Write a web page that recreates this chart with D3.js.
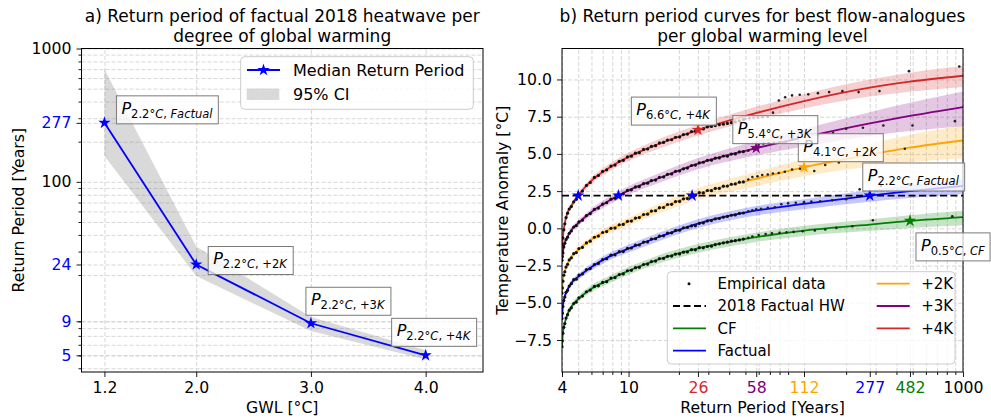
<!DOCTYPE html>
<html>
<head>
<meta charset="utf-8">
<script src="https://cdn.jsdelivr.net/npm/d3@7"></script>
<style>
  body { margin: 0; background: #fff; }
  svg { display: block; }
  text { font-family: "DejaVu Sans", sans-serif; }
</style>
</head>
<body>
<svg id="chart" width="991" height="420"></svg>
<script>
// ---- panel a data ----
const gwl = [1.2, 2.0, 3.0, 4.0];
const gwlNames = ["Factual", "+2K", "+3K", "+4K"];
const medianRP = [277, 24, 8.7, 5];
const ciLow = [156, 19.7, 7.6, 4.65];
const ciHigh = [700, 32.7, 9.7, 5.45];
const rpTicksA = [5, 9, 24, 100, 277, 1000];
const rpTickLabelsA = ["5", "9", "24", "100", "277", "1000"];
const gwlTicks = [1.2, 2.0, 3.0, 4.0];
const hwTemp = 2.2;

// ---- panel b data ----
const series = ["CF", "Factual", "+2K", "+3K", "+4K"];
const starRP = [482, 277, 112, 58, 26];
const starT = [0.5, 2.2, 4.1, 5.4, 6.6];
const yTicksB = [-7.5, -5, -2.5, 0, 2.5, 5, 7.5, 10];

const fitRP = [4.0, 4.05, 4.15, 4.3, 4.6, 5, 6, 7.5, 10, 15, 26, 52, 112, 277, 480, 1000];
const fitCF = [-8.0, -7.0, -6.4, -5.8, -5.2, -4.75, -4.05, -3.5, -2.85, -2.1, -1.35, -0.68, -0.15, 0.25, 0.5, 0.76];
const loCF = [-8.3, -7.25, -6.62, -6.0, -5.4, -4.95, -4.27, -3.74, -3.11, -2.38, -1.65, -1.0, -0.51, -0.17, 0.03, 0.21];
const hiCF = [-7.7, -6.75, -6.18, -5.6, -5.0, -4.55, -3.83, -3.26, -2.59, -1.82, -1.06, -0.38, 0.17, 0.6, 0.88, 1.18];
const fitFactual = [-6.1, -5.2, -4.6, -4.15, -3.6, -3.26, -2.6, -1.95, -1.36, -0.6, 0.32, 1.1, 1.64, 2.2, 2.5, 2.85];
const loFactual = [-6.4, -5.45, -4.82, -4.35, -3.8, -3.46, -2.82, -2.19, -1.62, -0.88, 0.02, 0.78, 1.28, 1.78, 2.03, 2.3];
const hiFactual = [-5.8, -4.95, -4.38, -3.95, -3.4, -3.06, -2.38, -1.71, -1.1, -0.32, 0.61, 1.4, 1.96, 2.56, 2.9, 3.3];
const fit2K = [-4.4, -3.5, -2.9, -2.4, -1.85, -1.45, -0.75, -0.13, 0.45, 1.3, 2.32, 3.2, 4.1, 4.95, 5.42, 5.9];
const lo2K = [-4.7, -3.75, -3.12, -2.6, -2.05, -1.65, -0.97, -0.38, 0.17, 0.98, 1.94, 2.73, 3.5, 4.13, 4.44, 4.7];
const hi2K = [-4.1, -3.25, -2.68, -2.2, -1.65, -1.25, -0.53, 0.12, 0.73, 1.62, 2.69, 3.65, 4.65, 5.67, 6.27, 6.9];
const fit3K = [-2.2, -1.6, -1.0, -0.6, -0.05, 0.35, 1.1, 1.8, 2.55, 3.35, 4.35, 5.26, 6.12, 7.05, 7.55, 8.15];
const lo3K = [-2.5, -1.85, -1.22, -0.8, -0.25, 0.15, 0.88, 1.55, 2.27, 3.03, 3.97, 4.79, 5.5, 6.2, 6.53, 6.85];
const hi3K = [-1.9, -1.35, -0.78, -0.4, 0.15, 0.55, 1.32, 2.05, 2.83, 3.67, 4.72, 5.71, 6.69, 7.8, 8.43, 9.2];
const fit4K = [-1.6, -0.6, 0.3, 1.0, 1.6, 2.2, 3.2, 4.0, 4.8, 5.65, 6.6, 7.6, 8.55, 9.45, 9.85, 10.25];
const lo4K = [-1.9, -0.85, 0.08, 0.8, 1.4, 2.0, 2.98, 3.75, 4.52, 5.33, 6.24, 7.18, 8.05, 8.85, 9.18, 9.5];
const hi4K = [-1.3, -0.35, 0.52, 1.2, 1.8, 2.4, 3.42, 4.25, 5.08, 5.97, 6.96, 8.01, 9.02, 10.0, 10.45, 10.9];

// empirical data: dense part on a shared return-period list, sparse tail per series
const empRP = [4.0, 4.02, 4.05, 4.1, 4.16, 4.23, 4.32, 4.42, 4.55, 4.7, 4.87, 5.05, 5.3, 5.6, 5.9, 6.25, 6.6, 7.0, 7.4, 7.85,
  8.3, 8.8, 9.3, 9.85, 10.4, 11.0, 11.6, 12.3, 13.0, 13.7, 14.5, 15.3, 16.2, 17.1, 18.1, 19.1, 20.2, 21.3, 22.5, 23.8,
  25.1, 26.5, 28.0, 29.6, 31.3, 33.0, 34.9, 36.9, 39.0, 41.2, 43.5, 46.0, 48.6];
const empCF = [-7.95, -7.55, -7.05, -6.65, -6.4, -6.03, -5.8, -5.5, -5.34, -5.05, -4.95, -4.67, -4.55, -4.26, -4.15, -3.9, -3.86, -3.63, -3.58, -3.34,
  -3.31, -3.1, -3.06, -2.85, -2.82, -2.64, -2.62, -2.43, -2.4, -2.23, -2.2, -2.03, -2.02, -1.88, -1.86, -1.73, -1.72, -1.6, -1.59, -1.43,
  -1.44, -1.3, -1.31, -1.22, -1.2, -1.1, -1.04, -0.98, -0.93, -0.86, -0.83, -0.78, -0.72];
const empFactual = [-6.05, -5.7, -5.25, -4.85, -4.62, -4.3, -4.17, -3.88, -3.72, -3.45, -3.42, -3.14, -3.06, -2.77, -2.7, -2.43, -2.36, -2.1, -2.04, -1.8,
  -1.78, -1.57, -1.56, -1.34, -1.32, -1.13, -1.12, -0.92, -0.91, -0.72, -0.7, -0.52, -0.5, -0.32, -0.3, -0.14, -0.13, 0.04, 0.06, 0.16,
  0.18, 0.34, 0.36, 0.5, 0.52, 0.63, 0.66, 0.75, 0.8, 0.88, 0.9, 1.0, 1.03];
const emp2K = [-4.35, -4.0, -3.55, -3.15, -2.92, -2.6, -2.42, -2.12, -1.98, -1.7, -1.63, -1.36, -1.28, -0.98, -0.86, -0.6, -0.52, -0.28, -0.22, 0.0,
  0.02, 0.24, 0.26, 0.47, 0.49, 0.69, 0.72, 0.93, 0.95, 1.16, 1.18, 1.39, 1.4, 1.6, 1.61, 1.8, 1.81, 1.98, 2.0, 2.2,
  2.22, 2.4, 2.38, 2.54, 2.53, 2.68, 2.68, 2.83, 2.84, 2.96, 2.98, 3.1, 3.12];
const emp3K = [-2.15, -1.9, -1.65, -1.25, -1.0, -0.75, -0.6, -0.33, -0.18, 0.09, 0.18, 0.43, 0.55, 0.86, 0.99, 1.27, 1.36, 1.62, 1.72, 1.96,
  2.02, 2.25, 2.32, 2.55, 2.59, 2.78, 2.8, 3.0, 3.03, 3.21, 3.24, 3.43, 3.45, 3.63, 3.65, 3.83, 3.85, 4.0, 4.05, 4.22,
  4.25, 4.4, 4.44, 4.57, 4.58, 4.71, 4.73, 4.86, 4.85, 4.99, 5.0, 5.13, 5.15];
const emp4K = [-1.55, -1.1, -0.65, -0.1, 0.3, 0.72, 1.02, 1.3, 1.46, 1.78, 1.95, 2.3, 2.5, 2.88, 3.08, 3.42, 3.55, 3.83, 3.93, 4.18,
  4.25, 4.5, 4.57, 4.8, 4.85, 5.05, 5.08, 5.3, 5.33, 5.5, 5.55, 5.74, 5.77, 5.93, 5.95, 6.12, 6.13, 6.3, 6.33, 6.5,
  6.52, 6.66, 6.68, 6.82, 6.84, 6.9, 6.96, 7.0, 7.05, 7.1, 7.15, 7.22, 7.3];
const tailCF = [[52, -0.64], [55, -0.55], [60, -0.45], [66, -0.38], [72, -0.34], [80, -0.3], [88, -0.27], [97, -0.24],
  [110, -0.2], [130, -0.15], [150, -0.08], [175, 0.03], [218, 0.14], [289, 0.54], [863, 0.81]];
const tailFactual = [[52, 1.15], [55, 1.22], [58, 1.28], [62, 1.32], [68, 1.38], [75, 1.42], [82, 1.62], [90, 1.68], [100, 1.72],
  [112, 1.76], [124, 1.8], [140, 1.82], [165, 1.88], [200, 1.95], [241, 2.62], [323, 2.84], [481, 2.95]];
const tail2K = [[52, 3.28], [55, 3.45], [59, 3.5], [63, 3.58], [68, 3.62], [73, 3.68], [79, 3.72], [86, 3.8], [95, 3.95],
  [106, 4.0], [129, 3.85], [150, 4.25], [181, 4.43], [449, 5.35]];
const tail3K = [[52, 5.22], [56, 5.38], [60, 5.62], [64, 5.7], [69, 5.73], [74, 5.75], [80, 5.78], [87, 5.8], [95, 6.0],
  [105, 6.1], [118, 6.2], [135, 6.25], [167, 6.4], [200, 6.69], [252, 6.76], [334, 6.91], [499, 6.91], [895, 7.2]];
const tail4K = [[50, 7.36], [52.8, 7.4], [55.9, 7.43], [59.4, 7.45], [63.3, 7.46], [67.9, 7.48], [73.1, 7.77], [79.2, 8.59],
  [86.4, 8.81], [95, 8.93], [105.6, 8.97], [118.8, 9.0], [135.7, 9.08], [158.3, 9.15], [190, 9.22], [237.5, 9.15],
  [316.7, 9.22], [475, 10.56], [950, 10.87]];

// ---- layout / style ----
const colors = {"CF": "green", "Factual": "blue", "+2K": "orange", "+3K": "purple", "+4K": "#d62728"};
const gridColor = "#cdcdcd";
const A = {left: 81.5, right: 483, top: 48.5, bottom: 372};
const B = {left: 562, right: 963, top: 48.5, bottom: 372};
// offsets of the P-label boxes from their star (top-left corner)
const boxOffA = [[12, -27], [12, -18], [-5, -36], [-34, -37]];
const boxOffB = [[6, 12], [-7, -32.6], [-5.7, -33.6], [-23.4, -32.3], [-66.6, -33]];

const svg = d3.select("#chart");
svg.append("rect").attr("width", 991).attr("height", 420).attr("fill", "#fff");

const xA = d3.scaleLinear().domain([1.0, 4.5]).range([A.left, A.right]);
const yA = d3.scaleLog().domain([3.75, 1000]).range([A.bottom, A.top]);
const xB = d3.scaleLog().domain([4, 1000]).range([B.left, B.right]);
const yB = d3.scaleLinear().domain([-9.65, 12.08]).range([B.bottom, B.top]);

const notDecade = d => Math.abs(d / Math.pow(10, Math.round(Math.log10(d))) - 1) > 1e-6;
const minorA = yA.ticks().filter(notDecade);
const minorB = xB.ticks().filter(notDecade);
const star = d3.symbol().type(d3.symbolStar).size(48)();

function grid(axis, transform) {
  svg.append("g").attr("transform", transform).call(axis)
    .call(g => g.select(".domain").remove())
    .call(g => g.selectAll(".tick line")
      .attr("stroke", gridColor).attr("stroke-width", 0.8).attr("stroke-dasharray", "4,2"));
}

function ticks(axis, transform, fontSize) {
  return svg.append("g").attr("transform", transform).call(axis)
    .call(g => g.select(".domain").remove())
    .call(g => g.selectAll(".tick line").attr("stroke", "#000").attr("stroke-width", 0.9))
    .call(g => g.selectAll(".tick text").attr("font-size", fontSize)
      .attr("font-family", "DejaVu Sans").attr("fill", "#000"));
}

function pLabel(x, y, sub) {
  const g = svg.append("g");
  const t = g.append("text").attr("font-size", 16).attr("fill", "#000");
  t.append("tspan").attr("font-style", "italic").text("P");
  sub.match(/[A-Za-z]+|[^A-Za-z]+/g).forEach((part, i) => {
    const s = t.append("tspan").attr("font-size", 11.5)
      .attr("font-style", /[A-Za-z]/.test(part) ? "italic" : "normal")
      .text(part);
    if (i === 0) s.attr("dy", 4);
  });
  const b = t.node().getBBox();
  g.insert("rect", "text")
    .attr("x", b.x - 5).attr("y", b.y - 3)
    .attr("width", b.width + 10).attr("height", b.height + 6)
    .attr("fill", "#fff").attr("fill-opacity", 0.75)
    .attr("stroke", "#7a7a7a").attr("stroke-width", 1);
  g.attr("transform", `translate(${x - b.x + 5},${y - b.y + 3})`);
}

// =============== panel a ===============
grid(d3.axisLeft(yA).tickValues([...rpTicksA, ...minorA]).tickSize(-(A.right - A.left)).tickFormat(""),
  `translate(${A.left},0)`);
grid(d3.axisBottom(xA).tickValues(gwlTicks).tickSize(-(A.bottom - A.top)).tickFormat(""),
  `translate(0,${A.bottom})`);

const rowsA = gwl.map((g, i) => ({g, med: medianRP[i], lo: ciLow[i], hi: ciHigh[i], name: gwlNames[i]}));

svg.append("path").datum(rowsA)
  .attr("fill", "gray").attr("fill-opacity", 0.3)
  .attr("d", d3.area().x(d => xA(d.g)).y0(d => yA(d.lo)).y1(d => yA(d.hi)));

svg.append("path").datum(rowsA)
  .attr("fill", "none").attr("stroke", "blue").attr("stroke-width", 1.8)
  .attr("d", d3.line().x(d => xA(d.g)).y(d => yA(d.med)));

svg.append("g").selectAll("path").data(rowsA).join("path")
  .attr("d", star).attr("fill", "blue")
  .attr("transform", d => `translate(${xA(d.g)},${yA(d.med)})`);

ticks(d3.axisLeft(yA).tickValues(minorA).tickSize(3).tickFormat(""), `translate(${A.left},0)`, 15.7);
ticks(d3.axisLeft(yA).tickValues(rpTicksA).tickSize(5).tickPadding(5).tickFormat((d, i) => rpTickLabelsA[i]),
  `translate(${A.left},0)`, 15.7)
  .selectAll(".tick text").attr("fill", d => medianRP.some(m => Math.round(m) === d) ? "blue" : "#000");
ticks(d3.axisBottom(xA).tickValues(gwlTicks).tickSize(5).tickPadding(5).tickFormat(d3.format(".1f")),
  `translate(0,${A.bottom})`, 15.7);

svg.append("rect").attr("x", A.left).attr("y", A.top)
  .attr("width", A.right - A.left).attr("height", A.bottom - A.top)
  .attr("fill", "none").attr("stroke", "#000").attr("stroke-width", 1);

rowsA.forEach((d, i) => pLabel(xA(d.g) + boxOffA[i][0], yA(d.med) + boxOffA[i][1], `${hwTemp.toFixed(1)}°C, ${d.name}`));

// legend a
const legA = svg.append("g");
legA.append("rect").attr("x", 240.7).attr("y", 56.7).attr("width", 232.6).attr("height", 52.6).attr("rx", 4)
  .attr("fill", "#fff").attr("fill-opacity", 0.8).attr("stroke", "#cccccc");
legA.append("line").attr("x1", 247).attr("x2", 280).attr("y1", 70).attr("y2", 70)
  .attr("stroke", "blue").attr("stroke-width", 1.8);
legA.append("path").attr("d", star).attr("fill", "blue").attr("transform", "translate(263.5,70)");
legA.append("rect").attr("x", 246.7).attr("y", 88.5).attr("width", 32.6).attr("height", 11.5)
  .attr("fill", "gray").attr("fill-opacity", 0.3);
legA.append("text").attr("x", 293).attr("y", 70).attr("dy", "0.35em").attr("font-size", 16).text("Median Return Period");
legA.append("text").attr("x", 293).attr("y", 94.5).attr("dy", "0.35em").attr("font-size", 16).text("95% CI");

// titles and axis labels a
const cxA = (A.left + A.right) / 2;
svg.append("text").attr("x", cxA).attr("y", 22).attr("text-anchor", "middle").attr("font-size", 17)
  .text("a) Return period of factual 2018 heatwave per");
svg.append("text").attr("x", cxA).attr("y", 41.5).attr("text-anchor", "middle").attr("font-size", 17)
  .text("degree of global warming");
svg.append("text").attr("x", cxA).attr("y", 413).attr("text-anchor", "middle").attr("font-size", 15.7)
  .text("GWL [°C]");
svg.append("text").attr("transform", `translate(23.5,${(A.top + A.bottom) / 2}) rotate(-90)`)
  .attr("text-anchor", "middle").attr("font-size", 15.7).text("Return Period [Years]");

// =============== panel b ===============
const xTicksB = [4, 10, ...starRP.slice().sort((a, b) => a - b), 1000];
grid(d3.axisBottom(xB).tickValues([...xTicksB, ...minorB]).tickSize(-(B.bottom - B.top)).tickFormat(""),
  `translate(0,${B.bottom})`);
grid(d3.axisLeft(yB).tickValues(yTicksB).tickSize(-(B.right - B.left)).tickFormat(""),
  `translate(${B.left},0)`);

svg.append("clipPath").attr("id", "clipB").append("rect")
  .attr("x", B.left).attr("y", B.top).attr("width", B.right - B.left).attr("height", B.bottom - B.top);
const plotB = svg.append("g").attr("clip-path", "url(#clipB)");

const fits = {"CF": [fitCF, loCF, hiCF], "Factual": [fitFactual, loFactual, hiFactual],
  "+2K": [fit2K, lo2K, hi2K], "+3K": [fit3K, lo3K, hi3K], "+4K": [fit4K, lo4K, hi4K]};
const emps = {"CF": [empCF, tailCF], "Factual": [empFactual, tailFactual], "+2K": [emp2K, tail2K],
  "+3K": [emp3K, tail3K], "+4K": [emp4K, tail4K]};

const seriesB = series.map((name, i) => ({
  name,
  color: colors[name],
  fit: fitRP.map((rp, j) => ({rp, t: fits[name][0][j], lo: fits[name][1][j], hi: fits[name][2][j]})),
  dense: empRP.map((rp, j) => [rp, emps[name][0][j]]),
  tail: emps[name][1],
  starRP: starRP[i],
  starT: starT[i]
}));

const areaB = d3.area().curve(d3.curveMonotoneX).x(d => xB(d.rp)).y0(d => yB(d.lo)).y1(d => yB(d.hi));
const lineB = d3.line().curve(d3.curveMonotoneX).x(d => xB(d.rp)).y(d => yB(d.t));

plotB.append("g").selectAll("path").data(seriesB).join("path")
  .attr("fill", d => d.color).attr("fill-opacity", 0.22)
  .attr("d", d => areaB(d.fit));

plotB.append("g").selectAll("path").data(seriesB).join("path")
  .attr("fill", "none").attr("stroke", d => d.color).attr("stroke-width", 1.8)
  .attr("d", d => lineB(d.fit));

plotB.append("g").selectAll("g").data(seriesB).join("g")
  .selectAll("circle").data(d => d.dense).join("circle")
  .attr("cx", d => xB(d[0])).attr("cy", d => yB(d[1])).attr("r", 1.6)
  .attr("fill", "#111");

plotB.append("g").selectAll("g").data(seriesB).join("g")
  .selectAll("circle").data(d => d.tail).join("circle")
  .attr("cx", d => xB(d[0])).attr("cy", d => yB(d[1])).attr("r", 1.3)
  .attr("fill", "#222");

plotB.append("line")
  .attr("x1", xB(4)).attr("x2", xB(1000)).attr("y1", yB(hwTemp)).attr("y2", yB(hwTemp))
  .attr("stroke", "#000").attr("stroke-width", 1.8).attr("stroke-dasharray", "7,3.5");

// crossings of the 2018 event with the warmer curves
svg.append("g").selectAll("path").data(medianRP.slice(1)).join("path")
  .attr("d", star).attr("fill", "blue")
  .attr("transform", d => `translate(${xB(d)},${yB(hwTemp)})`);

svg.append("g").selectAll("path").data(seriesB).join("path")
  .attr("d", star).attr("fill", d => d.color)
  .attr("transform", d => `translate(${xB(d.starRP)},${yB(d.starT)})`);

const fmtB = d => d3.format(".1f")(d).replace("-", "\u2212");
ticks(d3.axisBottom(xB).tickValues(minorB).tickSize(3).tickFormat(""), `translate(0,${B.bottom})`, 15.7);
ticks(d3.axisBottom(xB).tickValues(xTicksB).tickSize(5).tickPadding(5).tickFormat(d3.format("d")),
  `translate(0,${B.bottom})`, 15.7)
  .selectAll(".tick text").attr("fill", d => {
    const s = seriesB.find(s => s.starRP === d);
    return s ? s.color : "#000";
  });
ticks(d3.axisLeft(yB).tickValues(yTicksB).tickSize(5).tickPadding(5).tickFormat(fmtB),
  `translate(${B.left},0)`, 15.7);

svg.append("rect").attr("x", B.left).attr("y", B.top)
  .attr("width", B.right - B.left).attr("height", B.bottom - B.top)
  .attr("fill", "none").attr("stroke", "#000").attr("stroke-width", 1);

seriesB.forEach((d, i) => pLabel(xB(d.starRP) + boxOffB[i][0], yB(d.starT) + boxOffB[i][1],
  `${d.starT.toFixed(1)}°C, ${d.name}`));

// legend b
const legB = svg.append("g");
legB.append("rect").attr("x", 667.3).attr("y", 271.7).attr("width", 287.7).attr("height", 92.3).attr("rx", 4)
  .attr("fill", "#fff").attr("fill-opacity", 0.8).attr("stroke", "#cccccc");
const legItems = [
  {col: 0, row: 0, kind: "dot", label: "Empirical data"},
  {col: 0, row: 1, kind: "dash", label: "2018 Factual HW"},
  {col: 0, row: 2, kind: "line", color: colors["CF"], label: "CF"},
  {col: 0, row: 3, kind: "line", color: colors["Factual"], label: "Factual"},
  {col: 1, row: 0, kind: "line", color: colors["+2K"], label: "+2K"},
  {col: 1, row: 1, kind: "line", color: colors["+3K"], label: "+3K"},
  {col: 1, row: 2, kind: "line", color: colors["+4K"], label: "+4K"}
];
legItems.forEach(it => {
  const x0 = it.col === 0 ? 673 : 876.7;
  const y = 283.7 + it.row * 22.3;
  if (it.kind === "dot") {
    legB.append("circle").attr("cx", x0 + 16).attr("cy", y).attr("r", 1.5).attr("fill", "#111");
  } else {
    legB.append("line").attr("x1", x0).attr("x2", x0 + 33).attr("y1", y).attr("y2", y)
      .attr("stroke", it.kind === "dash" ? "#000" : it.color).attr("stroke-width", 1.8)
      .attr("stroke-dasharray", it.kind === "dash" ? "7,3.5" : null);
  }
  legB.append("text").attr("x", x0 + 44.5).attr("y", y).attr("dy", "0.35em").attr("font-size", 15)
    .text(it.label);
});

// titles and axis labels b
const cxB = (B.left + B.right) / 2;
svg.append("text").attr("x", cxB).attr("y", 22).attr("text-anchor", "middle").attr("font-size", 17)
  .text("b) Return period curves for best flow-analogues");
svg.append("text").attr("x", cxB).attr("y", 41.5).attr("text-anchor", "middle").attr("font-size", 17)
  .text("per global warming level");
svg.append("text").attr("x", cxB).attr("y", 413).attr("text-anchor", "middle").attr("font-size", 15.7)
  .text("Return Period [Years]");
svg.append("text").attr("transform", `translate(507.5,${(B.top + B.bottom) / 2}) rotate(-90)`)
  .attr("text-anchor", "middle").attr("font-size", 15.7).text("Temperature Anomaly [°C]");
</script>
</body>
</html>
